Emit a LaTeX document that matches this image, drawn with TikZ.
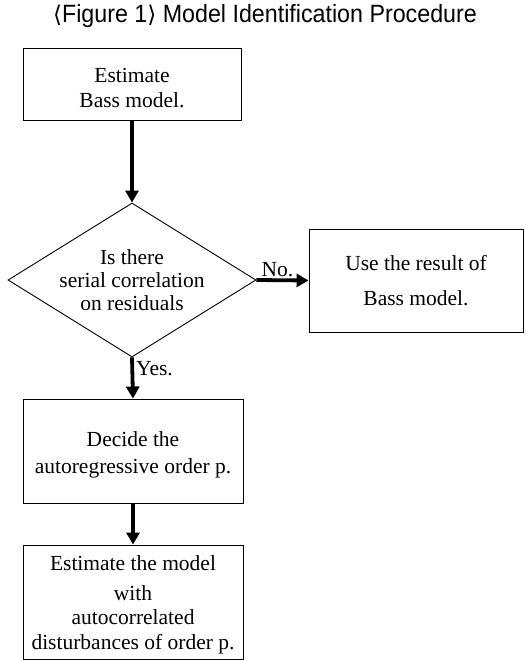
\documentclass[tikz,border=0pt]{standalone}
\usepackage{fontspec}
\setmainfont{Liberation Serif}
\newfontfamily\titlefont[FakeStretch=0.93]{Liberation Sans}
\newfontfamily\symfont{DejaVu Sans}
\usepackage{tikz}
\usetikzlibrary{arrows.meta,positioning,shapes.geometric}
\definecolor{ink}{HTML}{000000}
\tikzset{
  box/.style={draw=ink,line width=.9pt,rectangle,align=center,inner sep=0pt,
    font=\fontsize{21.5}{25}\selectfont},
  decide/.style={draw=ink,line width=.9pt,diamond,aspect=1.6,align=center,inner sep=0pt,
    font=\fontsize{21.5}{23}\selectfont},
  flow/.style={-{Triangle[length=12pt,width=13pt]},draw=ink,line width=3.8pt},
  tag/.style={font=\fontsize{21.5}{24}\selectfont,inner sep=1pt}
}

\begin{document}
\begin{tikzpicture}[x=1pt,y=-1pt]
  \useasboundingbox (0,0) rectangle (526,660);
  \node[font=\titlefont\fontsize{25}{27}\selectfont] (title) at (265,16)
    {{\symfont\fontsize{23}{27}\selectfont ⟨}Figure 1{\symfont\fontsize{23}{27}\selectfont ⟩} Model Identification Procedure};
  \node[box,minimum width=218,minimum height=72,text height=47.7pt] (est) at (132,84) {Estimate\\Bass model.};
  \node[decide,minimum width=248,minimum height=154] (chk) at (132,280)
    {Is there\\serial correlation\\on residuals};
  \node[box,minimum width=214,minimum height=103,font=\fontsize{21.5}{35}\selectfont] (use) at (416,280.5)
    {Use the result of\\Bass model.};
  \node[box,minimum width=220,minimum height=104,text height=49.7pt,
    font=\fontsize{21.5}{27}\selectfont] (ord) at (133,451)
    {Decide the\\autoregressive order p.};
  \node[box,minimum width=220,minimum height=114,text height=99.7pt] (fin) at (133,602)
    {Estimate the model\\[5pt]with\hspace*{12pt}\\[-1pt]autocorrelated\\disturbances of order p.};
  % connectors
  \draw[flow] (est.south) -- (chk.north);
  \draw[flow] (chk.east) -- (use.west);
  \draw[flow] (chk.south) -- (ord.north);
  \draw[flow] (ord.south) -- (fin.north);
  \node[tag,above=2pt of chk.east,anchor=south west,xshift=4pt] (no) {No.};
  \node[tag,right=3pt of chk.south,anchor=north west,yshift=-3pt] (yes) {Yes.};
\end{tikzpicture}
\end{document}
